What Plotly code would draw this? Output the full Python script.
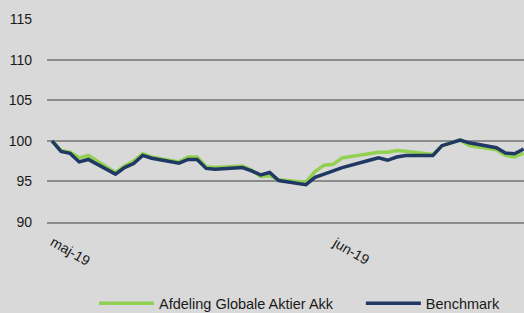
import plotly.graph_objects as go

dates = ["2019-04-29", "2019-04-30", "2019-05-01", "2019-05-02", "2019-05-03",
         "2019-05-06", "2019-05-07", "2019-05-08", "2019-05-09", "2019-05-10",
         "2019-05-13", "2019-05-14", "2019-05-15", "2019-05-16", "2019-05-17",
         "2019-05-20", "2019-05-21", "2019-05-22", "2019-05-23", "2019-05-24",
         "2019-05-27", "2019-05-28", "2019-05-29", "2019-05-30", "2019-05-31",
         "2019-06-03", "2019-06-04", "2019-06-05", "2019-06-06", "2019-06-07",
         "2019-06-10", "2019-06-11", "2019-06-12", "2019-06-13", "2019-06-14",
         "2019-06-17", "2019-06-18", "2019-06-19", "2019-06-20"]

fund = [100.0, 98.8, 98.6, 97.9, 98.2,
        96.1, 96.9, 97.5, 98.4, 98.0,
        97.4, 98.0, 98.0, 96.8, 96.7,
        96.9, 96.4, 95.6, 95.7, 95.2,
        94.9, 96.2, 97.0, 97.1, 97.9,
        98.5, 98.6, 98.6, 98.8, 98.7,
        98.3, 99.4, 99.8, 100.1, 99.4,
        98.9, 98.2, 98.0, 98.5]

benchmark = [100.0, 98.7, 98.45, 97.4, 97.7,
             95.9, 96.7, 97.2, 98.2, 97.85,
             97.25, 97.7, 97.7, 96.6, 96.5,
             96.7, 96.3, 95.8, 96.1, 95.1,
             94.6, 95.5, 95.9, 96.25, 96.7,
             97.6, 97.9, 97.6, 98.0, 98.2,
             98.2, 99.4, 99.7, 100.1, 99.75,
             99.15, 98.5, 98.4, 99.0]

y_ticks = [90, 95, 100, 105, 110, 115]
month_ticks = ["2019-05-01", "2019-06-01"]
month_labels = ["maj-19", "jun-19"]

series_names = ["Afdeling Globale Aktier Akk", "Benchmark"]

FONT = "Liberation Sans, Arial, sans-serif"
BG = "#d9d9d9"
GRID = "#8c8c8c"
TXT = "#1a1a1a"

fig = go.Figure()
fig.add_trace(go.Scatter(x=dates, y=fund, mode="lines", name=series_names[0],
                         line=dict(color="#92d050", width=3.5), legend="legend"))
fig.add_trace(go.Scatter(x=dates, y=benchmark, mode="lines", name=series_names[1],
                         line=dict(color="#1f3864", width=3.5), legend="legend2"))

for d, lab in zip(month_ticks, month_labels):
    fig.add_annotation(x=d, xref="x", y=0, yref="paper", yshift=-29,
                       text=lab, showarrow=False, textangle=30,
                       xanchor="center", yanchor="middle",
                       font=dict(family=FONT, size=14, color=TXT))

legend_common = dict(orientation="h", xanchor="left", y=-0.40, yanchor="middle",
                     bgcolor="rgba(0,0,0,0)", font=dict(family=FONT, size=14.5, color=TXT),
                     itemwidth=55, tracegroupgap=0)

fig.update_layout(
    width=524, height=313,
    margin=dict(l=47, r=0, t=19, b=91, autoexpand=False),
    paper_bgcolor=BG, plot_bgcolor=BG,
    font=dict(family=FONT, size=14, color=TXT),
    showlegend=True,
    legend=dict(x=0.0985, **legend_common),
    legend2=dict(x=0.658, **legend_common),
    xaxis=dict(type="date", range=["2019-04-28 10:48", "2019-06-20 01:00"],
               showgrid=False, showticklabels=False, ticks="", zeroline=False,
               showline=True, linecolor=GRID, linewidth=1.5),
    yaxis=dict(range=[90, 115], tickvals=y_ticks, showgrid=True, gridcolor=GRID,
               gridwidth=1.5, zeroline=False, ticks="", ticklabelstandoff=14,
               tickfont=dict(family=FONT, size=14, color=TXT)),
)

fig.write_html("out.html", config={"displayModeBar": False},
               post_script="document.body.style.margin='0';document.body.style.overflow='hidden';")
